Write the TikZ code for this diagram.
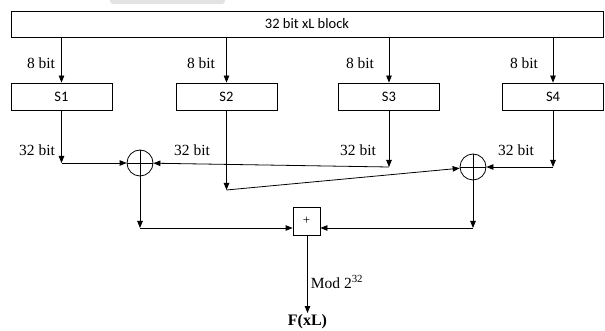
\documentclass[tikz,border=0pt]{standalone}
\usepackage{fontspec}
\setmainfont{Liberation Serif}
\newfontfamily\boxfont{Carlito}
\usetikzlibrary{positioning, arrows.meta, calc}

\begin{document}
\begin{tikzpicture}[x=1pt, y=-1pt, >={Triangle[length=7pt, width=5.5pt]}, line width=0.8pt]
                    \tikzset{sbox/.style={draw, minimum width=101pt, minimum height=27pt, inner sep=0pt, font=\boxfont\fontsize{14.5}{16}\selectfont},
                             lbl/.style={font=\fontsize{15.5}{17}\selectfont, inner sep=0pt},
                             xorop/.style={circle, draw, minimum size=26pt, inner sep=0pt,
                                 path picture={\draw (path picture bounding box.north) -- (path picture bounding box.south)
                                               (path picture bounding box.west) -- (path picture bounding box.east);}}}
                    \useasboundingbox (0,0) rectangle (605,331);
                    \fill[gray!22, rounded corners=3pt] (110,-5) rectangle (225,4);

                    % input block and s-boxes
                    \node[draw, minimum width=592pt, minimum height=26pt, inner sep=0pt, font=\boxfont\fontsize{14.5}{16}\selectfont] (blk) at (307,24) {32 bit xL block};
                    \node[sbox] (s1) at (61.5,96.5) {S1};
                    \node[sbox] (s2) at (226.5,96.5) {S2};
                    \node[sbox] (s3) at (389,96.5) {S3};
                    \node[sbox] (s4) at (553,96.5) {S4};
                    \foreach \s/\lx in {s1/41, s2/201, s3/360, s4/524} {
                        \draw[->] (\s |- blk.south) -- (\s);
                        \node[lbl] (l8\s) at (\lx,63) {8 bit};
                    }

                    % xor nodes and the adder
                    \node[xorop] (x1) at (140,163) {};
                    \node[xorop] (x2) at (473,167) {};
                    \node[draw, minimum width=27pt, minimum height=28pt, inner sep=0pt, font=\fontsize{13}{14}\selectfont] (add) at (306.5,221) {+};
                    \node[font=\bfseries\fontsize{16}{18}\selectfont, inner sep=1pt, anchor=north] (fxl) at (307.5,313) {F(xL)};

                    \coordinate (k1) at (61.5,163);
                    \coordinate (k2) at (226.5,190);
                    \coordinate (k3) at (389,167);
                    \coordinate (k4) at (553,167);
                    \coordinate (k5) at (140,228);
                    \coordinate (k6) at (473,228);
                    \foreach \s/\k/\lx in {s1/k1/37, s2/k2/192, s3/k3/358, s4/k4/516} {
                        \draw[->] (\s) -- (\k);
                        \node[lbl] (l32\s) at (\lx,150) {32 bit};
                    }
                    \draw[->] (k1) -- (x1);
                    \draw[->] (k3) -- (x1);
                    \draw[->] (k2) -- (x2);
                    \draw[->] (k4) -- (x2);
                    \draw[->] (x1) -- (k5);
                    \draw[->] (x2) -- (k6);
                    \draw[->] (k5) -- (add.west |- k5);
                    \draw[->] (k6) -- (add.east |- k6);
                    \draw[->] (add.south -| fxl) -- node[lbl, pos=0.6, right=3pt] (mod) {Mod 2\textsuperscript{32}} (fxl);
                \end{tikzpicture}
\end{document}
